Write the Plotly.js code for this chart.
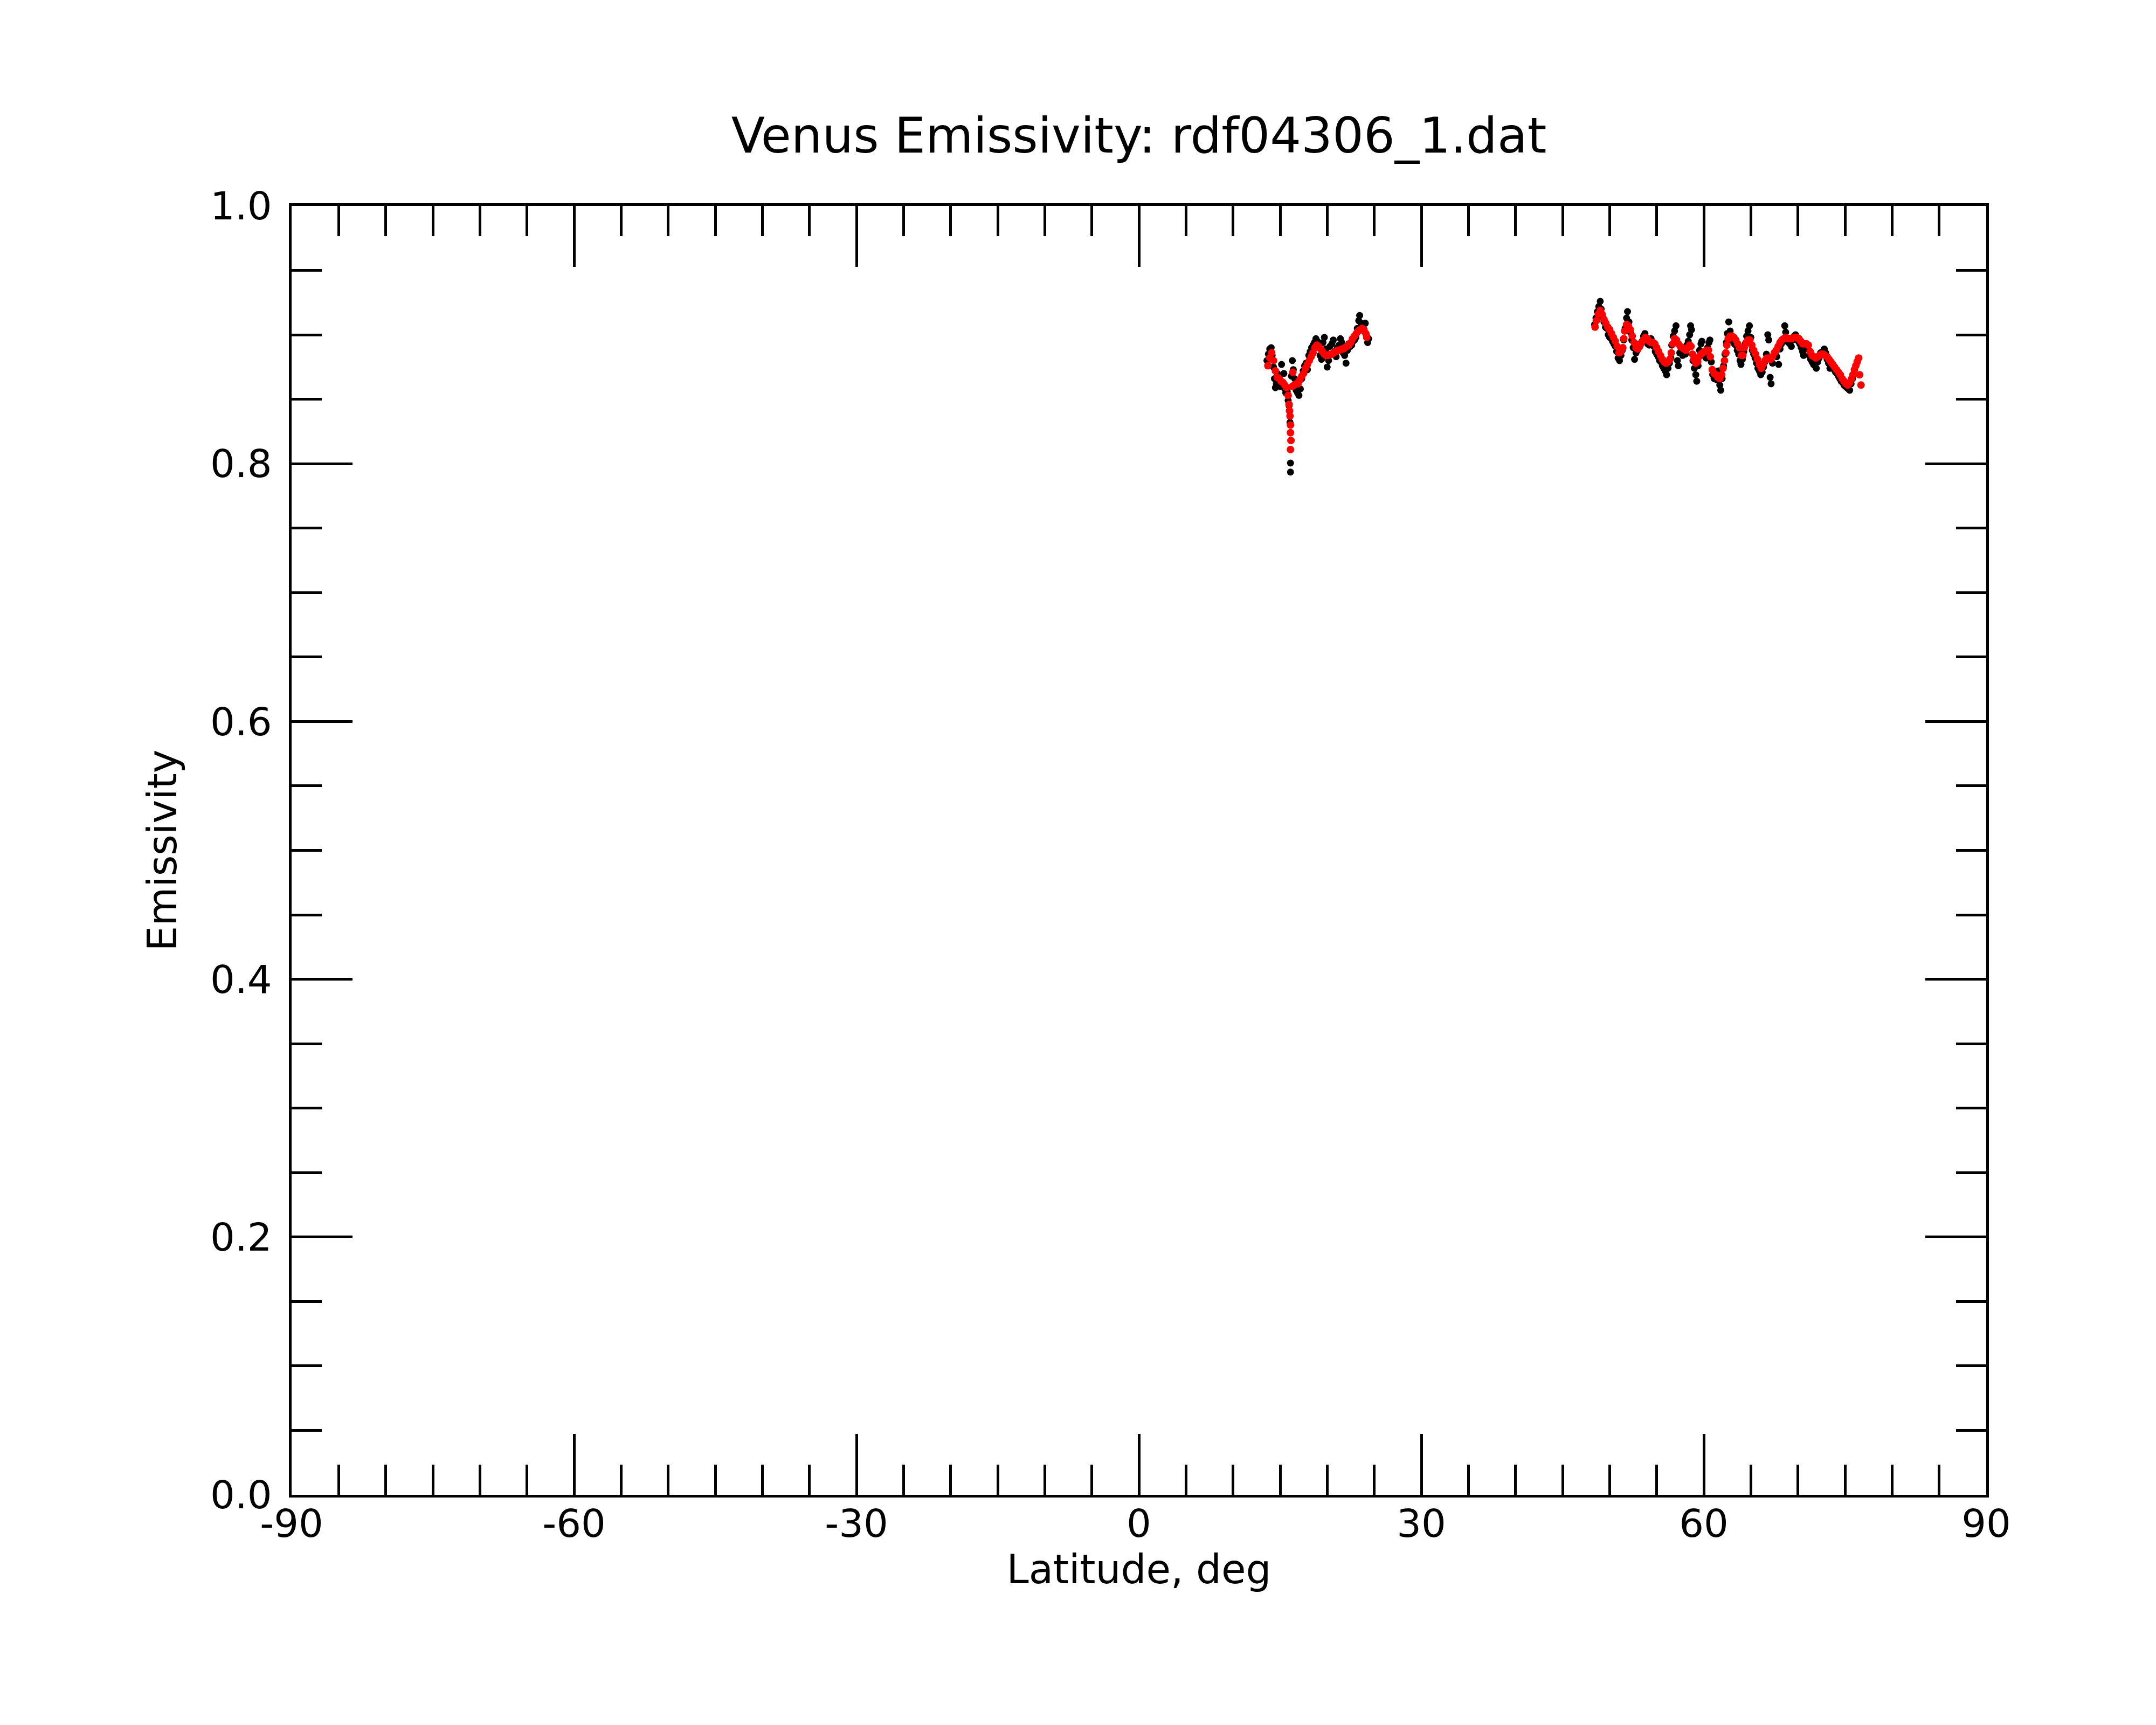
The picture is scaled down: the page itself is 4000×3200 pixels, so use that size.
<!DOCTYPE html>
<html>
<head>
<meta charset="utf-8">
<script src="https://cdn.plot.ly/plotly-3.0.1.min.js"></script>
<style>
  body { margin: 0; background: #fff; }
  #graph { width: 4000px; height: 3200px; }
</style>
</head>
<body>
<div id="graph"></div>
<script>
// raw emissivity samples (black), first pass near 14-24 deg
var rawLat1 = [13.6, 13.75, 13.9, 14.05, 14.15, 14.3, 14.4, 14.5, 14.6, 14.7, 14.85, 15.0, 15.15, 15.3, 15.4, 15.5, 15.6, 15.75, 15.85, 15.95,
    16.05, 16.1, 16.1, 16.2, 16.3, 16.4, 16.55, 16.7, 16.85, 17.0, 17.15, 17.3, 17.45, 17.6, 17.75, 17.9, 18.05, 18.2, 18.35, 18.5,
    18.65, 18.8, 18.95, 19.1, 19.25, 19.4, 19.55, 19.7, 19.85, 20.0, 20.15, 20.3, 20.5, 20.65, 20.8, 20.95, 21.1, 21.25, 21.4, 21.55,
    21.7, 21.85, 22.0, 22.15, 22.3, 22.45, 22.6, 22.75, 22.9, 23.05, 23.2, 23.35, 23.45, 23.6, 23.75, 23.9, 24.05, 24.15, 24.3, 24.4];
var rawEm1 = [0.880, 0.885, 0.889, 0.890, 0.884, 0.875, 0.866, 0.859, 0.862, 0.870, 0.864, 0.860, 0.877, 0.862, 0.870, 0.858, 0.855, 0.856, 0.849, 0.845,
    0.832, 0.8005, 0.7935, 0.868, 0.880, 0.873, 0.866, 0.857, 0.855, 0.853, 0.858, 0.866, 0.872, 0.876, 0.878, 0.873, 0.884, 0.887, 0.890, 0.892,
    0.894, 0.897, 0.895, 0.892, 0.884, 0.881, 0.894, 0.898, 0.889, 0.875, 0.880, 0.891, 0.893, 0.896, 0.887, 0.883, 0.890, 0.892, 0.897, 0.894,
    0.886, 0.884, 0.878, 0.888, 0.893, 0.891, 0.892, 0.895, 0.896, 0.898, 0.905, 0.911, 0.915, 0.909, 0.907, 0.903, 0.909, 0.900, 0.894, 0.897];

// raw emissivity samples (black), second pass near 48-76 deg
var rawLat2 = [48.4, 48.55, 48.7, 48.85, 49.0, 49.1, 49.25, 49.4, 49.55, 49.7, 49.85, 50.0, 50.15, 50.3, 50.45, 50.6, 50.75, 50.9, 51.05, 51.2,
    51.35, 51.5, 51.65, 51.8, 51.9, 52.05, 52.2, 52.35, 52.5, 52.65, 52.8, 52.95, 53.1, 53.25, 53.45, 53.6, 53.75, 53.9, 54.05, 54.2,
    54.4, 54.55, 54.7, 54.85, 55.0, 55.15, 55.3, 55.45, 55.6, 55.75, 55.9, 56.05, 56.2, 56.35, 56.5, 56.6, 56.75, 56.9, 57.05, 57.2,
    57.3, 57.45, 57.6, 57.75, 57.9, 58.05, 58.2, 58.35, 58.5, 58.6, 58.7, 58.85, 59.0, 59.15, 59.25, 59.4, 59.55, 59.7, 59.8, 59.95,
    60.1, 60.25, 60.4, 60.55, 60.65, 60.8, 60.95, 61.1, 61.25, 61.4, 61.55, 61.7, 61.8, 61.95, 62.1, 62.25, 62.4, 62.5, 62.65, 62.8,
    62.95, 63.1, 63.25, 63.4, 63.55, 63.7, 63.85, 63.95, 64.1, 64.25, 64.4, 64.55, 64.7, 64.85, 65.0, 65.15, 65.3, 65.45, 65.6, 65.75,
    65.9, 66.05, 66.2, 66.35, 66.5, 66.65, 66.8, 66.9, 67.05, 67.15, 67.3, 67.45, 67.6, 67.75, 67.95, 68.1, 68.25, 68.4, 68.6, 68.7,
    68.85, 69.0, 69.15, 69.3, 69.45, 69.6, 69.75, 69.9, 70.05, 70.2, 70.35, 70.5, 70.6, 70.75, 70.9, 71.05, 71.2, 71.35, 71.5, 71.65,
    71.8, 71.95, 72.1, 72.25, 72.4, 72.6, 72.8, 72.95, 73.1, 73.25, 73.4, 73.55, 73.7, 73.85, 74.0, 74.15, 74.3, 74.45, 74.6, 74.75,
    74.9, 75.05, 75.2, 75.35, 75.5, 75.65, 75.8];
var rawEm2 = [0.908, 0.913, 0.918, 0.922, 0.926, 0.920, 0.914, 0.910, 0.906, 0.905, 0.900, 0.898, 0.901, 0.895, 0.893, 0.891, 0.887, 0.882, 0.880, 0.884,
    0.888, 0.896, 0.905, 0.913, 0.918, 0.910, 0.902, 0.896, 0.890, 0.881, 0.886, 0.888, 0.891, 0.893, 0.895, 0.899, 0.901, 0.896, 0.893, 0.892,
    0.897, 0.892, 0.891, 0.887, 0.885, 0.883, 0.880, 0.879, 0.876, 0.874, 0.872, 0.869, 0.874, 0.878, 0.882, 0.892, 0.899, 0.903, 0.907, 0.880,
    0.876, 0.886, 0.889, 0.884, 0.886, 0.885, 0.892, 0.895, 0.900, 0.907, 0.904, 0.880, 0.874, 0.869, 0.864, 0.876, 0.888, 0.893, 0.895, 0.884,
    0.886, 0.882, 0.890, 0.894, 0.896, 0.879, 0.869, 0.866, 0.870, 0.865, 0.872, 0.861, 0.857, 0.866, 0.876, 0.885, 0.894, 0.901, 0.910, 0.903,
    0.897, 0.895, 0.893, 0.892, 0.888, 0.885, 0.880, 0.877, 0.881, 0.887, 0.893, 0.899, 0.903, 0.907, 0.898, 0.888, 0.885, 0.882, 0.878, 0.874,
    0.872, 0.869, 0.871, 0.875, 0.879, 0.885, 0.900, 0.896, 0.867, 0.862, 0.878, 0.884, 0.886, 0.883, 0.877, 0.889, 0.893, 0.895, 0.907, 0.902,
    0.895, 0.894, 0.893, 0.891, 0.896, 0.899, 0.900, 0.897, 0.895, 0.893, 0.890, 0.887, 0.884, 0.890, 0.891, 0.889, 0.884, 0.881, 0.879, 0.877,
    0.876, 0.874, 0.879, 0.882, 0.886, 0.887, 0.889, 0.886, 0.881, 0.878, 0.874, 0.877, 0.875, 0.873, 0.871, 0.870, 0.868, 0.866, 0.864, 0.863,
    0.861, 0.860, 0.859, 0.858, 0.857, 0.862, 0.866];

// smoothed emissivity (red), first pass
var smoothLat1 = [13.7, 13.9, 14.1, 14.3, 14.5, 14.7, 14.9, 15.1, 15.3, 15.5, 15.7, 15.85, 15.95, 16.0, 16.05, 16.1, 16.1, 16.15, 16.1, 16.3,
    16.35, 16.5, 16.7, 16.9, 17.1, 17.3, 17.5, 17.7, 17.9, 18.1, 18.3, 18.5, 18.7, 18.9, 19.1, 19.3, 19.5, 19.7, 19.9, 20.1,
    20.3, 20.5, 20.7, 20.9, 21.1, 21.3, 21.5, 21.7, 21.9, 22.1, 22.3, 22.5, 22.7, 22.9, 23.1, 23.3, 23.5, 23.7, 23.9, 24.1, 24.2];
var smoothEm1 = [0.876, 0.882, 0.886, 0.880, 0.872, 0.867, 0.866, 0.864, 0.863, 0.861, 0.859, 0.853, 0.846, 0.841, 0.837, 0.830, 0.824, 0.818, 0.811, 0.860,
    0.871, 0.861, 0.862, 0.862, 0.865, 0.868, 0.870, 0.874, 0.877, 0.880, 0.883, 0.886, 0.890, 0.892, 0.891, 0.889, 0.887, 0.885, 0.884, 0.884,
    0.885, 0.885, 0.886, 0.887, 0.888, 0.888, 0.889, 0.889, 0.890, 0.891, 0.892, 0.894, 0.897, 0.899, 0.901, 0.903, 0.904, 0.905, 0.904, 0.901, 0.898];

// smoothed emissivity (red), second pass
var smoothLat2 = [48.45, 48.6, 48.8, 49.0, 49.2, 49.4, 49.6, 49.8, 50.0, 50.2, 50.4, 50.6, 50.8, 51.0, 51.2, 51.4, 51.5, 51.6, 51.8, 52.0,
    52.2, 52.4, 52.6, 52.8, 53.0, 53.2, 53.4, 53.6, 53.8, 54.0, 54.2, 54.4, 54.6, 54.8, 55.0, 55.2, 55.4, 55.6, 55.8, 56.0,
    56.2, 56.4, 56.55, 56.7, 56.9, 57.1, 57.3, 57.5, 57.7, 57.9, 58.1, 58.3, 58.5, 58.65, 58.8, 58.95, 59.15, 59.35, 59.5, 59.7,
    59.9, 60.1, 60.3, 60.5, 60.7, 60.9, 61.1, 61.3, 61.5, 61.7, 61.9, 62.05, 62.2, 62.35, 62.45, 62.6, 62.8, 63.0, 63.2, 63.4,
    63.6, 63.8, 64.0, 64.15, 64.3, 64.5, 64.7, 64.9, 65.1, 65.3, 65.5, 65.7, 65.9, 66.1, 66.3, 66.5, 66.7, 66.9, 67.1, 67.3,
    67.5, 67.7, 67.9, 68.1, 68.3, 68.5, 68.7, 68.9, 69.1, 69.3, 69.5, 69.7, 69.9, 70.1, 70.3, 70.5, 70.7, 70.9, 71.1, 71.3,
    71.5, 71.7, 71.9, 72.1, 72.3, 72.5, 72.7, 72.9, 73.1, 73.3, 73.5, 73.7, 73.9, 74.1, 74.3, 74.5, 74.7, 74.9, 75.1, 75.3,
    75.5, 75.7, 75.85, 76.0, 76.15, 76.3, 76.45, 76.55, 76.7];
var smoothEm2 = [0.906, 0.911, 0.916, 0.919, 0.916, 0.912, 0.909, 0.906, 0.904, 0.901, 0.898, 0.895, 0.891, 0.886, 0.887, 0.890, 0.897, 0.903, 0.908, 0.907,
    0.904, 0.899, 0.894, 0.890, 0.889, 0.891, 0.894, 0.896, 0.898, 0.897, 0.895, 0.894, 0.894, 0.893, 0.890, 0.887, 0.884, 0.881, 0.879, 0.878,
    0.879, 0.881, 0.886, 0.893, 0.897, 0.896, 0.893, 0.891, 0.890, 0.889, 0.888, 0.890, 0.892, 0.891, 0.885, 0.881, 0.878, 0.879, 0.883, 0.885,
    0.886, 0.887, 0.888, 0.888, 0.883, 0.873, 0.870, 0.869, 0.867, 0.866, 0.869, 0.874, 0.880, 0.886, 0.892, 0.897, 0.899, 0.899, 0.898, 0.896,
    0.893, 0.890, 0.884, 0.884, 0.890, 0.894, 0.896, 0.896, 0.892, 0.888, 0.885, 0.881, 0.877, 0.874, 0.877, 0.880, 0.882, 0.882, 0.881, 0.883,
    0.886, 0.888, 0.891, 0.894, 0.896, 0.897, 0.898, 0.897, 0.897, 0.897, 0.898, 0.898, 0.898, 0.897, 0.895, 0.893, 0.893, 0.893, 0.892, 0.887,
    0.884, 0.883, 0.882, 0.883, 0.884, 0.885, 0.885, 0.884, 0.883, 0.881, 0.879, 0.877, 0.875, 0.873, 0.871, 0.869, 0.866, 0.864, 0.862, 0.861,
    0.863, 0.866, 0.869, 0.873, 0.876, 0.879, 0.882, 0.869, 0.861];

// axis ticks
var latTicks = [-90, -60, -30, 0, 30, 60, 90];
var latLabels = ['-90', '-60', '-30', '0', '30', '60', '90'];
var emTicks = [0.0, 0.2, 0.4, 0.6, 0.8, 1.0];
var emLabels = ['0.0', '0.2', '0.4', '0.6', '0.8', '1.0'];

var font = 'DejaVu Sans, Liberation Sans, sans-serif';

// black raw points go underneath, red smoothed points on top
var rawTrace = {
    x: rawLat1.concat(rawLat2),
    y: rawEm1.concat(rawEm2),
    mode: 'markers',
    type: 'scatter',
    marker: {color: '#000000', size: 13},
    hoverinfo: 'skip'
};
var smoothTrace = {
    x: smoothLat1.concat(smoothLat2),
    y: smoothEm1.concat(smoothEm2),
    mode: 'markers',
    type: 'scatter',
    marker: {color: '#ff0000', size: 14},
    hoverinfo: 'skip'
};

var axisStyle = {
    showline: true,
    linecolor: '#000',
    linewidth: 5,
    mirror: 'allticks',
    ticks: 'inside',
    tickwidth: 5,
    ticklen: 113,
    tickcolor: '#000',
    showgrid: false,
    zeroline: false,
    tickfont: {family: font, size: 72, color: '#000'}
};

var layout = {
    width: 4000,
    height: 3200,
    paper_bgcolor: '#fff',
    plot_bgcolor: '#fff',
    showlegend: false,
    margin: {l: 541, r: 315, t: 382, b: 427},
    title: {
        text: 'Venus Emissivity: rdf04306_1.dat',
        font: {family: font, size: 91, color: '#000'},
        x: 0.5, xref: 'paper',
        y: 1 - 251 / 3200, yref: 'container', yanchor: 'middle'
    },
    xaxis: Object.assign({}, axisStyle, {
        range: [-90, 90],
        tickmode: 'array',
        tickvals: latTicks,
        ticktext: latLabels,
        ticklabelstandoff: -13,
        minor: {dtick: 5, ticks: 'inside', ticklen: 56, tickwidth: 5, tickcolor: '#000', showgrid: false},
        title: {text: 'Latitude, deg', font: {family: font, size: 74, color: '#000'}, standoff: 0}
    }),
    yaxis: Object.assign({}, axisStyle, {
        range: [0, 1],
        tickmode: 'array',
        tickvals: emTicks,
        ticktext: emLabels,
        ticklabelstandoff: 17,
        minor: {dtick: 0.05, ticks: 'inside', ticklen: 56, tickwidth: 5, tickcolor: '#000', showgrid: false},
        title: {text: 'Emissivity', font: {family: font, size: 74, color: '#000'}, standoff: 40}
    })
};

Plotly.newPlot('graph', [rawTrace, smoothTrace], layout, {staticPlot: true, displayModeBar: false});
</script>
</body>
</html>
